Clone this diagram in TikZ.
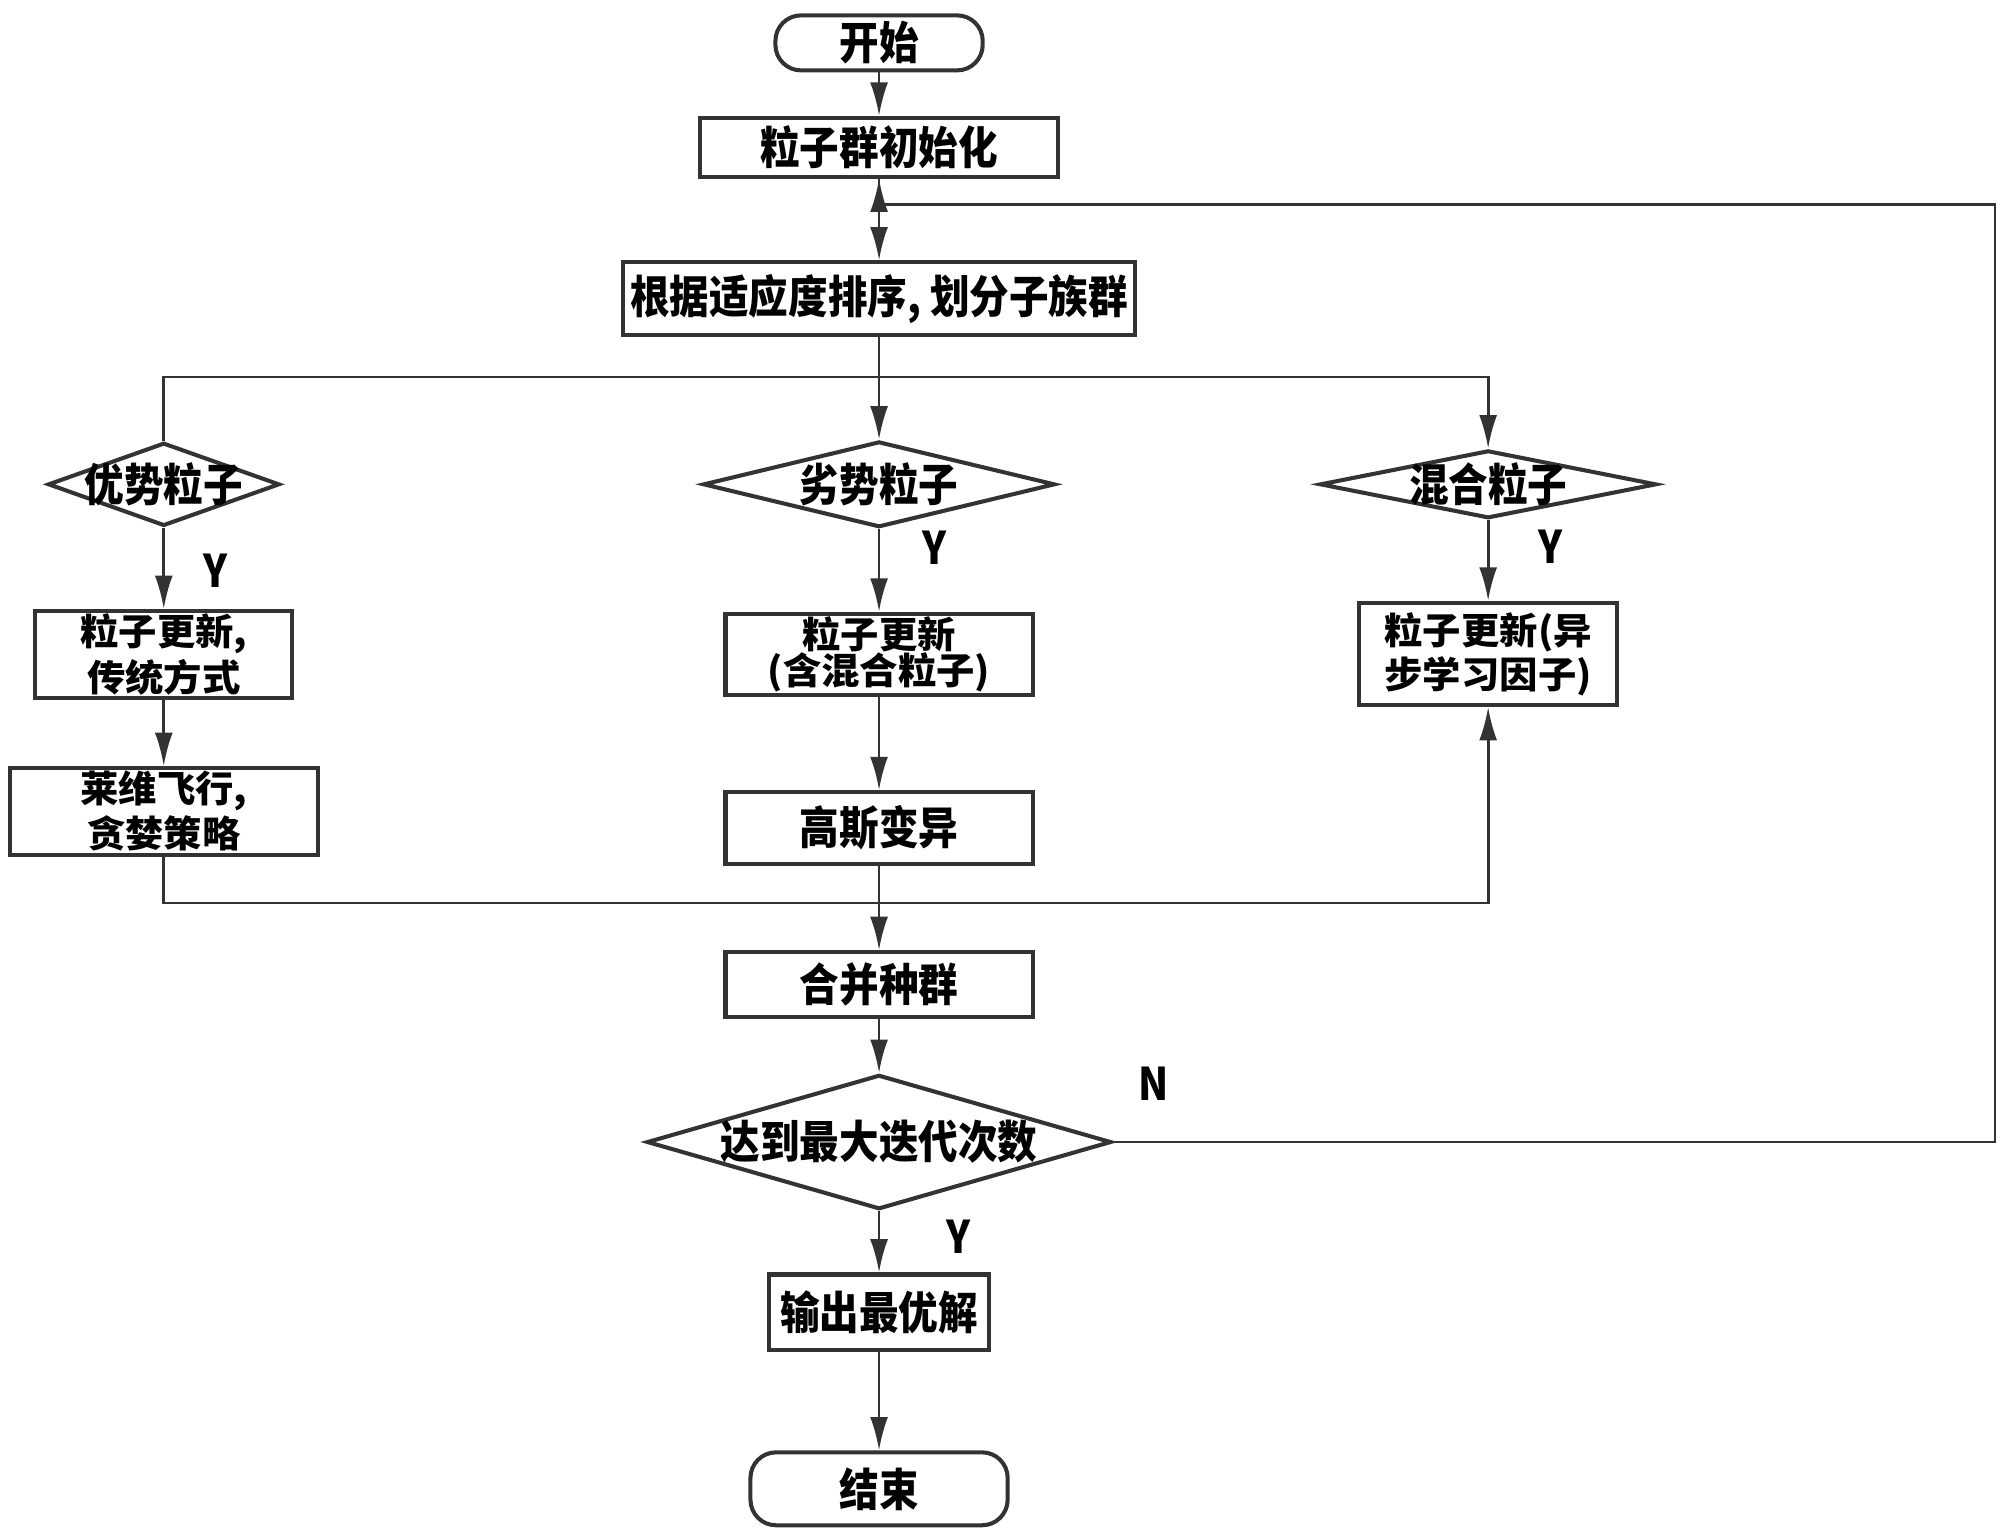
\documentclass[tikz,border=0pt]{standalone}
\usepackage{fontspec}
\newfontfamily\cjkfont[FakeStretch=0.88]{Noto Sans CJK SC}
\newfontfamily\cjkwide[FakeStretch=1.04]{Noto Sans CJK SC}
\usetikzlibrary{positioning, shapes.geometric, arrows.meta, calc}
\definecolor{lineclr}{HTML}{333333}
\newcommand{\boxfont}{\cjkfont\bfseries\fontsize{10pt}{9pt}\selectfont}
\newcommand{\pairfont}{\cjkwide\bfseries\fontsize{8.2pt}{8pt}\selectfont}

\begin{document}
\begin{tikzpicture}[
    on grid,
    arrowline/.style={draw=lineclr, line width=0.6pt, -{Latex[length=2.6mm, width=1.4mm]}},
    terminal/.style={rectangle, draw=lineclr, line width=0.9pt, rounded corners=2mm,
        inner sep=0pt, font=\boxfont, align=center},
    process/.style={rectangle, draw=lineclr, line width=0.9pt, inner sep=0pt,
        font=\boxfont, align=center},
    twoline/.style={font=\pairfont, inner ysep=0.25mm},
    decision/.style={diamond, draw=lineclr, line width=0.9pt, inner sep=0pt},
    every label/.style={font=\boxfont, inner sep=0pt},
    ylabel/.style={font=\boxfont, inner sep=0pt}
]
\useasboundingbox (-68.7mm,3.35mm) rectangle (87.6mm,-116.65mm);

% main column
\node (start) [terminal, minimum width=16.2mm, minimum height=4.3mm] at (0,0) {开始};
\node (init) [process, minimum width=28mm, minimum height=4.6mm, below=8.15mm of start] {粒子群初始化};
\node (sort) [process, minimum width=40mm, minimum height=5.7mm, below=11.85mm of init] {根据适应度排序, 划分子族群};
\node (midD) [decision, minimum width=27.5mm, minimum height=6.7mm, below=14.5mm of sort,
    label=center:劣势粒子] {};
\node (bestD) [decision, minimum width=18.1mm, minimum height=6.5mm, left=55.9mm of midD,
    label=center:优势粒子] {};
\node (mixD) [decision, minimum width=26.3mm, minimum height=5.3mm, right=47.6mm of midD,
    label=center:混合粒子] {};

% sub-swarm updates
\node (tradupd) [process, twoline, minimum width=20.1mm, minimum height=6.3mm, below=13.3mm of bestD] {粒子更新,\\传统方式};
\node (levy) [process, twoline, minimum width=24.1mm, minimum height=6.2mm, below=12.25mm of tradupd] {莱维飞行,\\贪婪策略};
\node (hybupd) [process, twoline, minimum width=24mm, minimum height=6.3mm, below=13.3mm of midD] {粒子更新\\(含混合粒子)};
\node (gauss) [process, minimum width=24mm, minimum height=5.6mm, below=13.55mm of hybupd] {高斯变异};
\node (asyncupd) [process, twoline, minimum width=20.2mm, minimum height=8mm, below=13.25mm of mixD] {粒子更新(异\\步学习因子)};

% merge and stop
\node (merge) [process, minimum width=24mm, minimum height=5.1mm, below=12.25mm of gauss] {合并种群};
\node (maxD) [decision, minimum width=36.3mm, minimum height=10.5mm, below=12.3mm of merge,
    label=center:达到最大迭代次数] {};
\node (output) [process, minimum width=17.2mm, minimum height=5.9mm, below=13.3mm of maxD] {输出最优解};
\node (finish) [terminal, minimum width=20.1mm, minimum height=5.7mm, below=13.8mm of output] {结束};

\coordinate (loopjoin) at ($(init.south)+(0,-2mm)$);
\coordinate (split) at ($(sort.south)+(0,-3.1mm)$);
\coordinate (lowjoin) at ($(gauss.south)+(0,-2.9mm)$);
\coordinate (loopright) at ($(maxD.east)+(68.9mm,0)$);

% connectors
\draw[arrowline] (start) -- (init);
\draw[arrowline] (init.south) -- (sort.north);
\draw[arrowline] (maxD.east) -- (loopright) |- (loopjoin) -- (init.south);
\draw[arrowline] (sort.south) -- (midD.north);
\draw[arrowline] (bestD.north) |- (split) -| (mixD.north);
\draw[arrowline] (bestD) -- node[ylabel, right=3mm, pos=0.53] {Y} (tradupd);
\draw[arrowline] (tradupd) -- (levy);
\draw[arrowline] (midD) -- node[ylabel, right=3.3mm, pos=0.22] {Y} (hybupd);
\draw[arrowline] (hybupd) -- (gauss);
\draw[arrowline] (mixD) -- node[ylabel, right=3.8mm, pos=0.33] {Y} (asyncupd);
\draw[arrowline] (levy.south) |- (lowjoin) -| (asyncupd.south);
\draw[arrowline] (gauss) -- (merge);
\draw[arrowline] (merge) -- (maxD);
\draw[arrowline] (maxD) -- node[ylabel, right=5.2mm, pos=0.41] {Y} (output);
\draw[arrowline] (output) -- (finish);
\node (nlabel) [ylabel, above right=3.2mm and 1.9mm of maxD.east] {N};
\end{tikzpicture}
\end{document}
